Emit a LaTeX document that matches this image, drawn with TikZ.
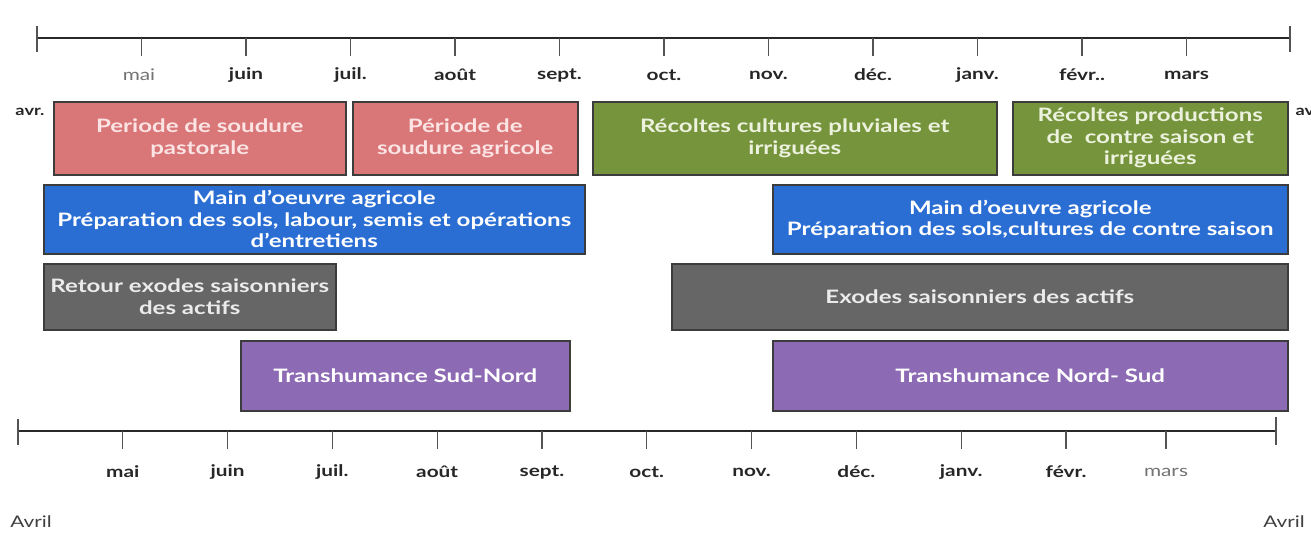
\documentclass[tikz,border=0pt]{standalone}
\usepackage{fontspec}
\setmainfont{Lato}[FakeStretch=1.3]
\usepackage{tikz}
\usepackage{xcolor}
\definecolor{pinkfill}{RGB}{217,118,120}
\definecolor{pinktext}{RGB}{252,228,228}
\definecolor{greenfill}{RGB}{118,148,60}
\definecolor{greentext}{RGB}{236,242,222}
\definecolor{bluefill}{RGB}{42,110,212}
\definecolor{grayfill}{RGB}{102,102,102}
\definecolor{purplefill}{RGB}{140,106,180}
\definecolor{boxline}{RGB}{60,60,60}
\definecolor{axisline}{RGB}{40,40,40}
\tikzset{
    period-box/.style = {draw=boxline, line width=1.5pt, rectangle, anchor=north west, align=center, inner sep=2pt,
        font=\fontsize{18.5}{21.5}\selectfont\bfseries},
    pink-box/.style = {period-box, fill=pinkfill, text=pinktext},
    green-box/.style = {period-box, fill=greenfill, text=greentext},
    blue-box/.style = {period-box, fill=bluefill, text=white},
    gray-box/.style = {period-box, fill=grayfill, text=white!92!black},
    purple-box/.style = {period-box, fill=purplefill, text=white},
    month-label/.style = {font=\fontsize{16}{18}\selectfont\bfseries, text=black!85},
    light-label/.style = {font=\fontsize{16}{18}\selectfont, text=black!55},
    axis/.style = {draw=axisline, line width=2.2pt},
    tick/.style = {draw=axisline!80, line width=1.2pt},
}

\begin{document}
\begin{tikzpicture}[x=1pt, y=-1pt]
\useasboundingbox (0,0) rectangle (1311,535);

% axe du haut
\draw[axis] (37,38) -- (1290,38);
\draw[tick] (37,26) -- (37,52);
\draw[tick] (1290,26) -- (1290,52);
\draw[tick] (141.5,38) -- ++(0,18);
\node[light-label] (top-1) at (139,75) {mai};
\foreach \m [count=\i from 2] in {juin,juil.,août,sept.,oct.,nov.,déc.,janv.,févr..,mars}{
    \draw[tick] (37+104.5*\i,38) -- ++(0,18);
    \node[month-label] (top-\i) at (37+104.5*\i,75) {\m};
}
\node[month-label, font=\fontsize{14}{16}\selectfont\bfseries] (avr-left) at (30,112) {avr.};
\node[month-label, font=\fontsize{14}{16}\selectfont\bfseries, anchor=west] (avr-right) at (1292,112) {avr.};

% periodes
\node[pink-box, minimum width=292pt, minimum height=73pt] (soudure-past) at (53,101) {Periode de soudure\\pastorale};
\node[pink-box, minimum width=225pt, minimum height=73pt] (soudure-agri) at (352,101) {Période de\\soudure agricole};
\node[green-box, minimum width=404pt, minimum height=73pt] (recoltes-pluv) at (592,101) {Récoltes cultures pluviales et\\irriguées};
\node[green-box, minimum width=275pt, minimum height=73pt] (recoltes-cs) at (1012,101) {Récoltes productions\\de\ \ contre saison et\\irriguées};

\node[blue-box, minimum width=541pt, minimum height=69pt] (main-oeuvre-1) at (43,184) {Main d'oeuvre agricole\\Préparation des sols, labour, semis et opérations\\d'entretiens};
\node[blue-box, minimum width=515pt, minimum height=69pt] (main-oeuvre-2) at (772,184) {Main d'oeuvre agricole\\Préparation des sols,cultures de contre saison};

\node[gray-box, minimum width=292pt, minimum height=66pt] (retour-exodes) at (43,263) {Retour exodes saisonniers\\des actifs};
\node[gray-box, minimum width=616pt, minimum height=66pt] (exodes) at (671,263) {Exodes saisonniers des actifs};

\node[purple-box, minimum width=329pt, minimum height=70pt] (transh-sn) at (240,340) {Transhumance Sud-Nord};
\node[purple-box, minimum width=515pt, minimum height=70pt] (transh-ns) at (772,340) {Transhumance Nord- Sud};

% axe du bas
\draw[axis] (18,431) -- (1276,431);
\draw[tick] (18,419) -- (18,445);
\draw[tick] (1276,417) -- (1276,445);
\foreach \m [count=\i] in {mai,juin,juil.,août,sept.,oct.,nov.,déc.,janv.,févr.}{
    \draw[tick] (18+104.8*\i,431) -- ++(0,18);
    \node[month-label] (bottom-\i) at (18+104.8*\i,472) {\m};
}
\draw[tick] (1166,431) -- ++(0,18);
\node[light-label] (bottom-11) at (1166,472) {mars};

\node[font=\fontsize{16}{18}\selectfont, text=black!75] (avril-left) at (31,522) {Avril};
\node[font=\fontsize{16}{18}\selectfont, text=black!75] (avril-right) at (1284,522) {Avril};
\end{tikzpicture}
\end{document}
